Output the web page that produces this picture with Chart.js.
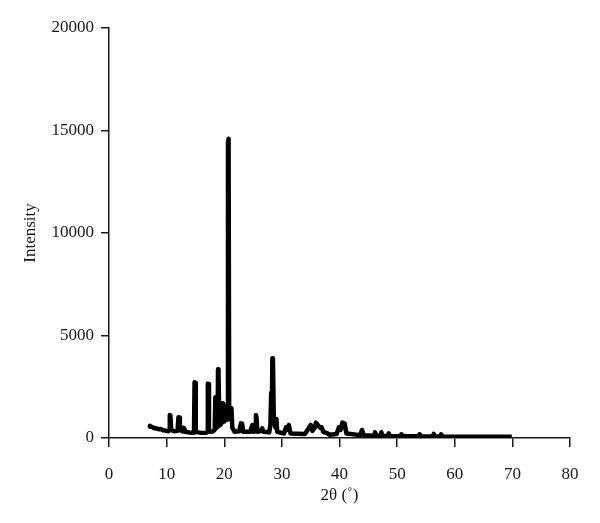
<!DOCTYPE html>
<html>
<head>
<meta charset="utf-8">
<script src="https://cdn.jsdelivr.net/npm/chart.js@4"></script>
<style>
html,body{margin:0;padding:0;background:#fff;}
#wrap{width:600px;height:523px;position:relative;}
</style>
</head>
<body>
<div id="wrap"><canvas id="c" width="600" height="523"></canvas></div>
<script>
// Data
const twoTheta = [7.0,7.1,7.5,7.8,8.2,8.6,9.0,9.4,9.8,10.3,10.45,10.55,10.65,10.8,11.3,11.9,12.05,12.15,12.3,12.8,12.9,13.05,13.2,14.0,14.6,14.75,14.85,14.95,15.05,16.0,16.9,17.05,17.15,17.25,17.35,18.0,18.35,18.45,18.55,18.7,18.85,18.92,19.0,19.15,19.5,19.75,19.85,20.0,20.3,20.45,20.55,20.65,20.75,20.85,21.1,21.25,21.4,21.8,22.6,22.9,23.1,23.3,24.5,24.7,24.9,25.1,25.4,25.5,25.6,25.75,26.4,26.6,26.8,27.8,28.0,28.15,28.25,28.35,28.45,28.6,28.9,29.05,29.2,30.4,30.7,30.9,31.2,31.5,34.0,34.6,35.0,35.3,35.7,35.9,36.2,36.6,36.9,37.2,37.8,38.3,39.5,39.9,40.2,40.5,40.9,41.2,43.6,43.9,44.2,46.0,46.15,46.35,47.1,47.25,47.45,48.4,48.55,48.75,50.6,50.75,50.95,53.7,53.9,54.2,56.2,56.35,56.55,57.5,57.65,57.85,69.9];
const intensity = [600,560,540,480,470,430,440,380,360,330,400,1120,1100,380,330,350,1010,1000,400,320,500,480,300,270,260,300,2715,2700,300,250,260,300,2660,2640,300,320,400,1985,1900,500,600,3350,3300,600,700,1690,1650,800,1000,1400,900,14400,14600,1500,1200,1450,500,300,330,715,700,300,300,500,635,300,500,1120,1000,300,350,470,300,280,600,2210,1000,3890,3850,900,500,925,300,220,520,400,635,220,200,450,635,350,500,750,650,500,520,300,240,160,200,520,400,750,700,220,140,390,140,110,280,110,110,280,110,100,230,100,90,180,90,80,180,80,75,200,75,75,180,70,60];
const xTicks = [0,10,20,30,40,50,60,70,80];
const yTicks = [0,5000,10000,15000,20000];
const xTitle = '2θ (˚)';
const yTitle = 'Intensity';

const points = twoTheta.map((x,i)=>({x:x,y:intensity[i]}));
const ink = '#1a1718';
const fontFam = "'Liberation Serif','DejaVu Serif',serif";

new Chart(document.getElementById('c'), {
  type: 'line',
  data: { datasets: [{
    data: points,
    borderColor: '#000000',
    borderWidth: 4.5,
    borderJoinStyle: 'round',
    pointRadius: 0,
    tension: 0,
    fill: false
  }]},
  options: {
    responsive: false,
    animation: false,
    layout: { padding: { top: 28, right: 30, left: 20, bottom: 0 } },
    plugins: { legend: { display: false }, tooltip: { enabled: false } },
    scales: {
      x: {
        type: 'linear',
        min: 0, max: 80,
        afterBuildTicks: (s)=>{ s.ticks = xTicks.map(v=>({value:v})); },
        afterFit: (s)=>{ s.height = 85; },
        grid: { display: true, drawOnChartArea: false, drawTicks: true, tickLength: 9, color: ink, lineWidth: 1.5 },
        border: { display: true, color: ink, width: 1.5 },
        ticks: { color: ink, font: { family: fontFam, size: 17 }, padding: 17, maxRotation: 0 },
        title: { display: true, text: xTitle, color: ink, font: { family: fontFam, size: 17 }, padding: { top: 4, bottom: 17 } }
      },
      y: {
        type: 'linear',
        min: 0, max: 20000,
        afterBuildTicks: (s)=>{ s.ticks = yTicks.map(v=>({value:v})); },
        afterFit: (s)=>{ s.width = 89; },
        grid: { display: true, drawOnChartArea: false, drawTicks: true, tickLength: 8, color: ink, lineWidth: 1.5 },
        border: { display: true, color: ink, width: 1.5 },
        ticks: { color: ink, font: { family: fontFam, size: 17 }, padding: 7, callback: v=>String(v) },
        title: { display: true, text: yTitle, color: ink, font: { family: fontFam, size: 17 }, padding: { top: 0, bottom: 0 } }
      }
    }
  }
});
</script>
</body>
</html>
